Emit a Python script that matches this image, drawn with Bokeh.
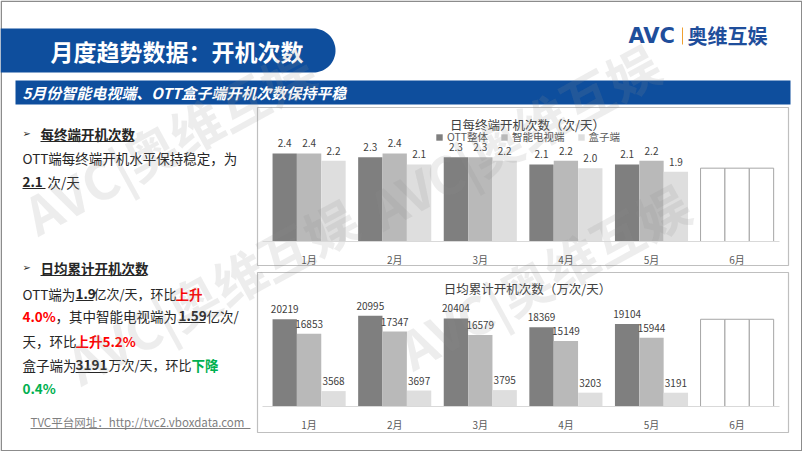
import numpy as np
from bokeh.plotting import figure
from bokeh.models import (Range1d, ColumnDataSource, LinearAxis, FixedTicker,
                          Legend, LegendItem)
from bokeh.core.properties import value
from bokeh.embed import file_html
from bokeh.resources import INLINE

# ---------------- data ----------------
months = ["1月", "2月", "3月", "4月", "5月", "6月"]
series_names = ["OTT整体", "智能电视端", "盒子端"]

# 日每终端开机次数（次/天） Jan-May
per_ott = [2.4, 2.3, 2.3, 2.1, 2.1]
per_tv = [2.4, 2.4, 2.3, 2.2, 2.2]
per_box = [2.2, 2.1, 2.2, 2.0, 1.9]
per_june_placeholder = [2.0, 2.0, 2.0]

# 日均累计开机次数（万次/天） Jan-May
daily_ott = [20219, 20995, 20404, 18369, 19104]
daily_tv = [16853, 17347, 16579, 15149, 15944]
daily_box = [3568, 3697, 3795, 3203, 3191]
daily_june_placeholder = [20200, 20200, 20200]

title_text = "月度趋势数据：开机次数"
subtitle_text = "5月份智能电视端、OTT盒子端开机次数保持平稳"
chart1_title = "日每终端开机次数（次/天）"
chart2_title = "日均累计开机次数（万次/天）"
watermark_text = "AVC|奥维互娱"

# ---------------- styles / layout ----------------
W, H = 802, 451
FONT = "Noto Sans CJK SC"
BLUE = "#0e4e9d"
C_OTT, C_TV, C_BOX = "#7f7f7f", "#b9b9b9", "#dedede"
TXT = "#262626"
RED, GREEN = "#ff0000", "#00b050"

CAT_X0, CAT_STEP = 308.6, 85.6      # px of first category centre, px per category
C1_BASE, C1_PX = 241.0, 36.67       # chart 1 baseline px, px per unit
C2_BASE, C2_PX = 406.0, 0.004318    # chart 2 baseline px, px per unit
OFF, BW = 0.285, 0.284

p = figure(width=W, height=H, x_range=Range1d(0, W), y_range=Range1d(H, 0),
           output_backend="svg", toolbar_location=None,
           x_axis_location=None, y_axis_location=None, min_border=0)
p.grid.visible = False
p.outline_line_color = None
p.background_fill_color = "white"
p.border_fill_color = "white"

p.extra_x_ranges = {"cx": Range1d(-CAT_X0 / CAT_STEP, (W - CAT_X0) / CAT_STEP)}
p.extra_y_ranges = {
    "c1y": Range1d(-(H - C1_BASE) / C1_PX, C1_BASE / C1_PX),
    "c2y": Range1d(-(H - C2_BASE) / C2_PX, C2_BASE / C2_PX),
}


def txt(x, y, t, size="13.5px", color=TXT, style="normal", align="left", font=FONT,
        alpha=1.0, angle=0.0, baseline="middle"):
    p.text(x=[x], y=[y], text=[t], text_font=value(font), text_font_size=size,
           text_color=color, text_font_style=style, text_align=align,
           text_baseline=baseline, text_alpha=alpha, angle=angle)


def uline(x0, x1, y, color=TXT, w=1):
    p.segment(x0=[x0], y0=[y], x1=[x1], y1=[y], line_color=color, line_width=w)


# ---------------- slide decoration ----------------
p.quad(left=[0.75], right=[W - 0.75], top=[0.75], bottom=[H - 0.75],
       fill_color=None, line_color="#8c8c8c", line_width=1.5)

th = np.linspace(-np.pi / 2, np.pi / 2, 40)
px = [0] + list(313 + 22 * np.cos(th)) + [0]
py = [28] + list(50 + 22 * np.sin(th)) + [72]
p.patch(px, py, fill_color=BLUE, line_color=None)
txt(50, 50, title_text, size="23px", color="white", style="bold")

p.quad(left=[15], right=[790], top=[80], bottom=[104], fill_color=BLUE, line_color=None)
txt(22, 92, subtitle_text, size="15px", color="white", style="bold italic")

# logo
txt(628, 35, "AVC", size="21px", color="#1f4e9b", style="bold", font="DejaVu Sans")
p.segment(x0=[682], y0=[27], x1=[682], y1=[44], line_color="#f0a030", line_width=1)
txt(687, 35, "奥维互娱", size="20px", color="#1f4e9b", style="bold")

# ---------------- left text panel ----------------
txt(22, 133, "➢", size="10px", font="DejaVu Sans")
txt(40, 133, "每终端开机次数", style="bold")
uline(40, 133, 141)
txt(22, 157, "OTT端每终端开机水平保持稳定，为")
txt(22, 181, "2.1", style="bold")
uline(22, 45, 188)
txt(47, 181, "次/天")

txt(22, 267, "➢", size="10px", font="DejaVu Sans")
txt(40, 267, "日均累计开机次数", style="bold")
uline(40, 146, 275)
txt(22, 293, "OTT端为")
txt(75, 293, "1.9", style="bold")
uline(75, 93, 300)
txt(93, 293, "亿次/天，环比", size="13px")
txt(175, 293, "上升", color=RED, style="bold")
txt(22, 315, "4.0%", color=RED, style="bold")
txt(55, 315, "，其中智能电视端为")
txt(178, 315, "1.59", style="bold")
uline(178, 205, 322)
txt(206, 315, "亿次/")
txt(22, 340, "天，环比")
txt(75, 340, "上升5.2%", color=RED, style="bold")
txt(22, 364, "盒子端为")
txt(75, 364, "3191", style="bold")
uline(75, 107, 372)
txt(108, 364, "万次/天，环比", size="13px")
txt(191, 364, "下降", color=GREEN, style="bold")
txt(22, 387, "0.4%", color=GREEN, style="bold")

txt(30, 421, "TVC平台网址：http://tvc2.vboxdata.com", size="11.5px", color="#7f7f7f")
uline(30, 250, 428, color="#7f7f7f")

txt(772, 424, "-7-", size="10px", color="#bfbfbf", align="center")

# ---------------- chart boxes ----------------
p.quad(left=[257], right=[788], top=[107], bottom=[265], fill_color="white",
       line_color="#bfbfbf", line_width=1.2)
p.quad(left=[257], right=[788], top=[272], bottom=[432], fill_color="white",
       line_color="#bfbfbf", line_width=1.2)
txt(527, 124, chart1_title, size="12.5px", color="#404040", align="center")
txt(527, 288, chart2_title, size="12.5px", color="#404040", align="center")


def bar_chart(yname, ott, tv, box, june, fmt):
    idx = np.arange(len(ott))
    src = ColumnDataSource(dict(
        x_ott=idx - OFF, x_tv=idx, x_box=idx + OFF,
        ott=ott, tv=tv, box=box,
        l_ott=[fmt(v) for v in ott], l_tv=[fmt(v) for v in tv], l_box=[fmt(v) for v in box]))
    rs = []
    for xc, yc, col in (("x_ott", "ott", C_OTT), ("x_tv", "tv", C_TV), ("x_box", "box", C_BOX)):
        r = p.vbar(x=xc, top=yc, bottom=0, width=BW, source=src, fill_color=col,
                   line_color=None, x_range_name="cx", y_range_name=yname)
        rs.append(r)
    for xc, lc in (("x_ott", "l_ott"), ("x_tv", "l_tv"), ("x_box", "l_box")):
        yc = lc[2:]
        p.text(x=xc, y=yc, text=lc, source=src, text_font=value(FONT), text_font_size="10px",
               text_color="#404040", text_align="center", text_baseline="bottom",
               y_offset=-6, x_range_name="cx", y_range_name=yname)
    jx = [len(ott) - OFF, len(ott), len(ott) + OFF]
    p.vbar(x=jx, top=june, bottom=0, width=BW, fill_color="white", line_color="#a6a6a6",
           line_width=1, x_range_name="cx", y_range_name=yname)
    ax = LinearAxis(x_range_name="cx", y_range_name=yname, fixed_location=0,
                    bounds=(-0.55, 5.5), ticker=FixedTicker(ticks=list(range(len(months)))),
                    major_label_overrides={i: m for i, m in enumerate(months)})
    ax.axis_line_color = "#d9d9d9"
    ax.major_tick_line_color = None
    ax.minor_tick_line_color = None
    ax.major_tick_out = 0
    ax.major_label_standoff = 10
    ax.major_label_text_font = FONT
    ax.major_label_text_font_size = "10px"
    ax.major_label_text_color = "#595959"
    p.add_layout(ax, "below")
    return rs


r1 = bar_chart("c1y", per_ott, per_tv, per_box, per_june_placeholder, lambda v: f"{v:.1f}")
bar_chart("c2y", daily_ott, daily_tv, daily_box, daily_june_placeholder, lambda v: f"{v}")

legend = Legend(items=[LegendItem(label=n, renderers=[r]) for n, r in zip(series_names, r1)],
                orientation="horizontal", location=(435, 307), padding=0, margin=0,
                spacing=12, label_standoff=4, glyph_width=8, glyph_height=8,
                label_height=10, label_text_font=FONT, label_text_font_size="10.5px",
                label_text_color="#595959", background_fill_alpha=0,
                border_line_color=None)
p.add_layout(legend)

# ---------------- faint diagonal watermarks ----------------
for wx, wy in ((45, 250), (390, 245), (88, 400), (420, 385)):
    txt(wx, wy, watermark_text, size="52px", color="#8c8c8c", style="bold",
        alpha=0.16, angle=0.5, baseline="bottom")

open("out.html", "w").write(file_html(p, INLINE))
